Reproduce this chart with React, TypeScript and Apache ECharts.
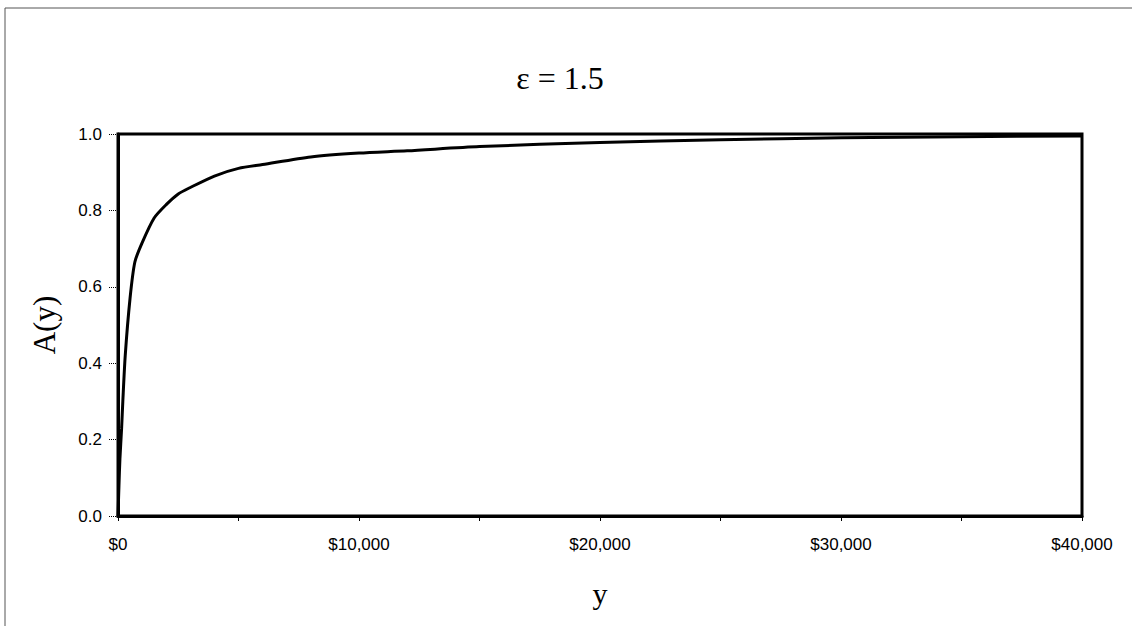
import React, { useEffect, useRef } from "react";
import * as echarts from "echarts";

const titleText = "ε = 1.5";
const xAxisName = "y";
const yAxisName = "A(y)";
const incomes = [0, 40, 80, 150, 200, 300, 500, 700, 1000, 1500, 2000, 2500, 3000, 4000, 5000, 6000, 8000, 10000, 12000, 15000, 20000, 25000, 30000, 35000, 40000];
const aValues = [0, 0.08, 0.15, 0.23, 0.3, 0.42, 0.57, 0.665, 0.715, 0.78, 0.815, 0.843, 0.86, 0.89, 0.91, 0.92, 0.94, 0.95, 0.956, 0.967, 0.978, 0.985, 0.99, 0.993, 0.995];
const yTicks = [0, 0.2, 0.4, 0.6, 0.8, 1.0];

export default function App() {
  const ref = useRef<HTMLDivElement>(null);
  useEffect(() => {
    if (!ref.current) return;
    const chart = echarts.init(ref.current, null, { renderer: "svg" });
    const data = incomes.map((x, i) => [x, aValues[i]]);
    chart.setOption({
      animation: false,
      backgroundColor: "#fff",
      title: {
        text: titleText,
        left: 555,
        top: 57,
        textAlign: "center",
        textStyle: { fontFamily: "Liberation Serif", fontSize: 32, fontWeight: "normal", color: "#000" },
      },
      grid: { left: 118, right: 50, top: 134, bottom: 110, show: true, borderColor: "#000", borderWidth: 3, backgroundColor: "transparent" },
      xAxis: {
        type: "value",
        min: 0,
        max: 40000,
        interval: 5000,
        name: xAxisName,
        nameLocation: "middle",
        nameGap: 62,
        nameTextStyle: { fontFamily: "Liberation Serif", fontSize: 30, color: "#000" },
        axisLine: { show: true, lineStyle: { color: "#000", width: 3 } },
        axisTick: { show: true, length: 5, inside: false, lineStyle: { color: "#000", width: 1 } },
        splitLine: { show: false },
        axisLabel: {
          margin: 20,
          fontFamily: "Liberation Sans",
          fontSize: 17,
          color: "#000",
          formatter: (v: number) => (v % 10000 === 0 ? "$" + v.toLocaleString("en-US") : ""),
        },
      },
      yAxis: {
        type: "value",
        min: yTicks[0],
        max: yTicks[yTicks.length - 1],
        interval: 0.2,
        name: yAxisName,
        nameLocation: "middle",
        nameGap: 58,
        nameRotate: 90,
        nameTextStyle: { fontFamily: "Liberation Serif", fontSize: 31, color: "#000" },
        axisLine: { show: true, lineStyle: { color: "#000", width: 3 } },
        axisTick: { show: true, length: 10, lineStyle: { color: "#000", width: 1, type: "dotted" } },
        splitLine: { show: false },
        axisLabel: {
          margin: 16,
          fontFamily: "Liberation Sans",
          fontSize: 17,
          color: "#000",
          formatter: (v: number) => v.toFixed(1),
        },
      },
      graphic: [
        { type: "line", shape: { x1: 5, y1: 8, x2: 1132, y2: 8 }, style: { stroke: "#555", lineWidth: 1 } },
        { type: "line", shape: { x1: 5, y1: 8, x2: 5, y2: 626 }, style: { stroke: "#555", lineWidth: 1 } },
      ],
      series: [
        {
          type: "line",
          data,
          showSymbol: false,
          smooth: 0.25,
          lineStyle: { color: "#000", width: 3 },
        },
      ],
    });
    return () => chart.dispose();
  }, []);
  return <div ref={ref} style={{ position: "absolute", left: 0, top: 0, width: 1132, height: 626 }} />;
}
